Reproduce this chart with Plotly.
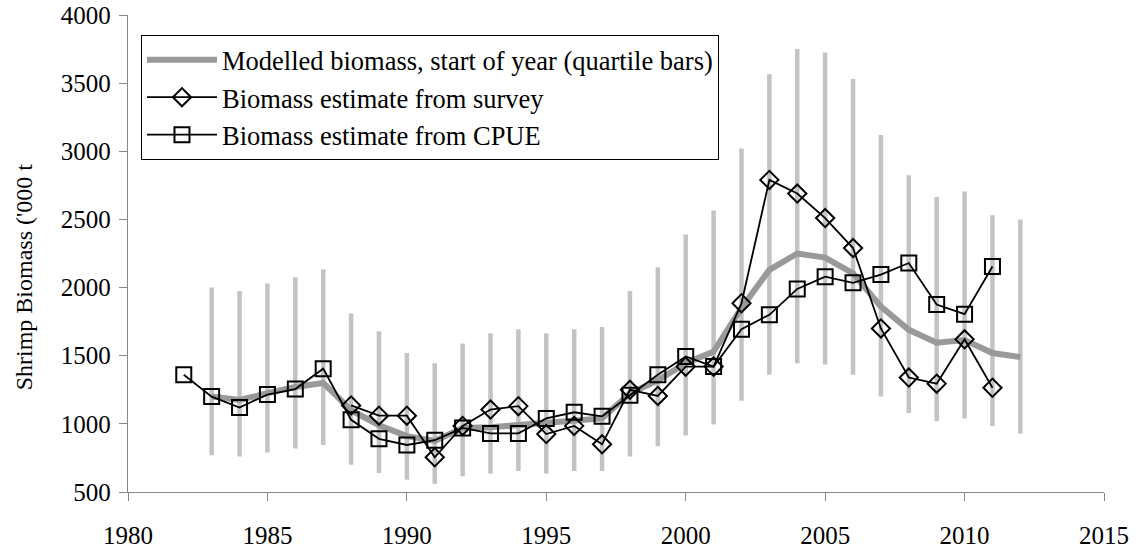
import plotly.graph_objects as go

# Modelled biomass at start of year, with interquartile range ('000 t)
model_years = list(range(1983, 2013))
model_median = [1200, 1175, 1225, 1270, 1300, 1100, 990, 910, 875, 970,
                975, 990, 1005, 1030, 1040, 1225, 1320, 1445, 1530, 1850,
                2130, 2250, 2220, 2105, 1860, 1690, 1595, 1615, 1520, 1490]
model_q75 = [2000, 1975, 2030, 2075, 2135, 1810, 1680, 1520, 1445, 1590,
             1665, 1695, 1665, 1695, 1710, 1975, 2150, 2390, 2565, 3020,
             3565, 3750, 3725, 3530, 3120, 2825, 2665, 2705, 2530, 2500]
model_q25 = [770, 760, 790, 820, 845, 700, 640, 590, 560, 615,
             635, 655, 635, 655, 655, 760, 835, 915, 995, 1170,
             1360, 1445, 1435, 1360, 1200, 1080, 1020, 1040, 985, 930]

# Survey biomass index
survey_years = list(range(1988, 2012))
survey_biomass = [1135, 1060, 1060, 755, 985, 1105, 1130, 925, 985, 850,
                  1250, 1205, 1420, 1420, 1885, 2790, 2690, 2510, 2290, 1700,
                  1340, 1295, 1620, 1265]

# CPUE-based biomass index
cpue_years = list(range(1982, 2012))
cpue_biomass = [1360, 1200, 1120, 1215, 1255, 1405, 1030, 890, 845, 880,
                970, 930, 930, 1040, 1085, 1055, 1210, 1360, 1495, 1420,
                1695, 1800, 1990, 2080, 2035, 2095, 2180, 1875, 1805, 2155]

x_ticks = [1980, 1985, 1990, 1995, 2000, 2005, 2010, 2015]
y_ticks = [500, 1000, 1500, 2000, 2500, 3000, 3500, 4000]

FONT = "Liberation Serif"
AXIS_GREY = "#868686"

# Vertical quartile bars: one segment per year, separated by gaps
bar_x, bar_y = [], []
for yr, lo, hi in zip(model_years, model_q25, model_q75):
    bar_x += [yr, yr, None]
    bar_y += [lo, hi, None]

fig = go.Figure()

fig.add_trace(go.Scatter(
    x=bar_x, y=bar_y, mode="lines",
    line=dict(color="#C3C3C3", width=4.5),
    showlegend=False, hoverinfo="skip",
))

fig.add_trace(go.Scatter(
    x=model_years, y=model_median, mode="lines",
    name="Modelled biomass, start of year (quartile bars)",
    line=dict(color="#999999", width=6),
))

fig.add_trace(go.Scatter(
    x=survey_years, y=survey_biomass, mode="lines+markers",
    name="Biomass estimate from survey",
    line=dict(color="black", width=1.8),
    marker=dict(symbol="diamond-open", size=14, color="black",
                line=dict(width=2, color="black")),
))

fig.add_trace(go.Scatter(
    x=cpue_years, y=cpue_biomass, mode="lines+markers",
    name="Biomass estimate from CPUE",
    line=dict(color="black", width=1.8),
    marker=dict(symbol="square-open", size=15, color="black",
                line=dict(width=2, color="black")),
))

axis_common = dict(
    showline=True, linecolor=AXIS_GREY, linewidth=1.3,
    ticks="outside", ticklen=8, tickwidth=1.3, tickcolor=AXIS_GREY,
    showgrid=False, zeroline=False, automargin=False,
    tickfont=dict(family=FONT, size=25, color="black"),
)

fig.update_xaxes(range=[1980, 2015], tickvals=x_ticks,
                 ticktext=[str(v) for v in x_ticks],
                 ticklabelstandoff=13, **axis_common)
fig.update_yaxes(range=[500, 4000], tickvals=y_ticks,
                 ticktext=[str(v) for v in y_ticks],
                 ticklabelstandoff=3, **axis_common)

fig.add_annotation(
    text="Shrimp Biomass ('000 t", textangle=-90,
    xref="paper", yref="paper", x=-0.1066, y=0.452,
    xanchor="center", yanchor="middle",
    showarrow=False, font=dict(family=FONT, size=24, color="black"),
)

fig.update_layout(
    width=1136, height=548,
    margin=dict(l=128, r=32, t=15, b=56, autoexpand=False),
    paper_bgcolor="white", plot_bgcolor="white",
    font=dict(family=FONT, size=24, color="black"),
    legend=dict(
        x=0.0133, y=0.958, xanchor="left", yanchor="top",
        bordercolor="black", borderwidth=1, bgcolor="white",
        font=dict(family=FONT, size=26.5, color="black"),
        itemwidth=70, tracegroupgap=0,
    ),
)

fig.write_html("out.html")
